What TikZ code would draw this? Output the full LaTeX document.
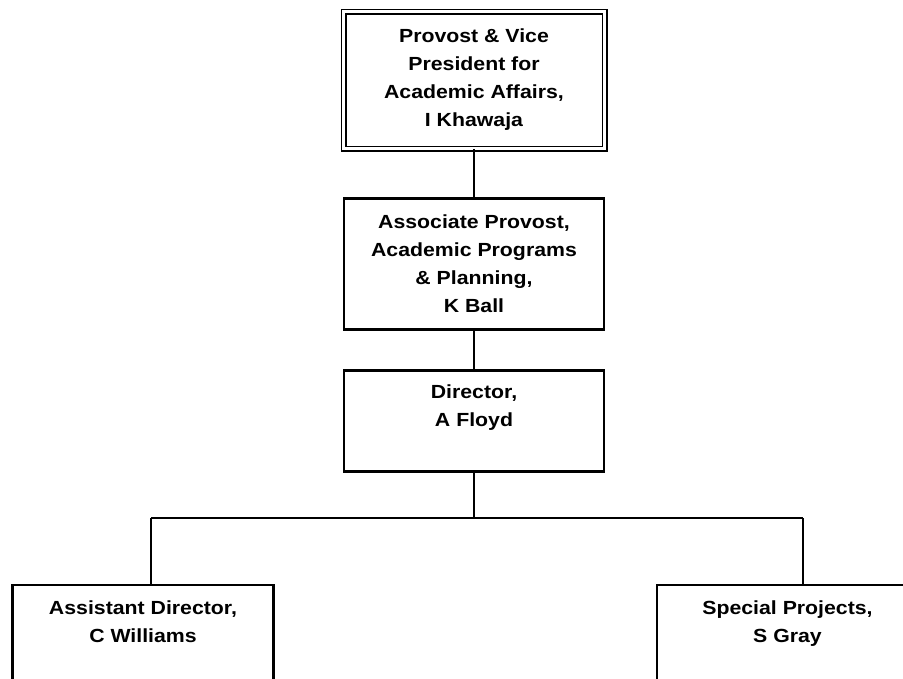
\documentclass[tikz,border=0pt]{standalone}
\usepackage{fontspec}
\newfontfamily\orgfont{Liberation Sans}[FakeStretch=1.12]
\usetikzlibrary{positioning}

\begin{document}
\begin{tikzpicture}[x=1pt,y=-1pt,
  orgbox/.style={draw,line width=2.8pt,fill=white,inner sep=0pt,minimum width=260pt,
    font={\orgfont\bfseries\fontsize{19pt}{28pt}\selectfont},align=center},
  topbox/.style={orgbox,double,line width=1.9pt,double distance=2.2pt},
  orgtext/.style={inner sep=0pt,font={\orgfont\bfseries\fontsize{19pt}{28pt}\selectfont},align=center},
  link/.style={line width=2.8pt}]
\useasboundingbox (0,0) rectangle (903,678);
\clip (0,0) rectangle (903,678);
\def\midx{474}

\node[topbox,minimum width=261pt,minimum height=137pt] (provost) at (\midx,80)
  {Provost \& Vice\\President for\\Academic Affairs,\\I Khawaja};
\node[orgbox,minimum height=131pt] (assoc) at (\midx,264)
  {Associate Provost,\\Academic Programs\\\& Planning,\\K Ball};
\node[orgbox,minimum height=101pt] (dir) at (\midx,421) {};
\node[orgtext,below=15pt of dir.north] (dirtxt) {Director,\\A Floyd};

\node[orgbox,minimum width=261pt,minimum height=140pt] (asst) at (143,655) {};
\node[orgtext,below=17pt of asst.north] (assttxt) {Assistant Director,\\C Williams};
\node[orgbox,minimum width=261pt,minimum height=140pt] (spec) at (787.5,655) {};
\node[orgtext,below=17pt of spec.north] (spectxt) {Special Projects,\\S Gray};

\coordinate (jl) at (151,518);
\coordinate (jr) at (803,518);

\draw[link] (provost.south) -- (assoc.north);
\draw[link] (assoc.south) -- (dir.north);
\draw[link] (dir.south) -- (dir.south |- jl);
\draw[link] (jl) -- (jr);
\draw[link] (jl) -- (jl |- asst.north);
\draw[link] (jr) -- (jr |- spec.north);

\end{tikzpicture}
\end{document}
